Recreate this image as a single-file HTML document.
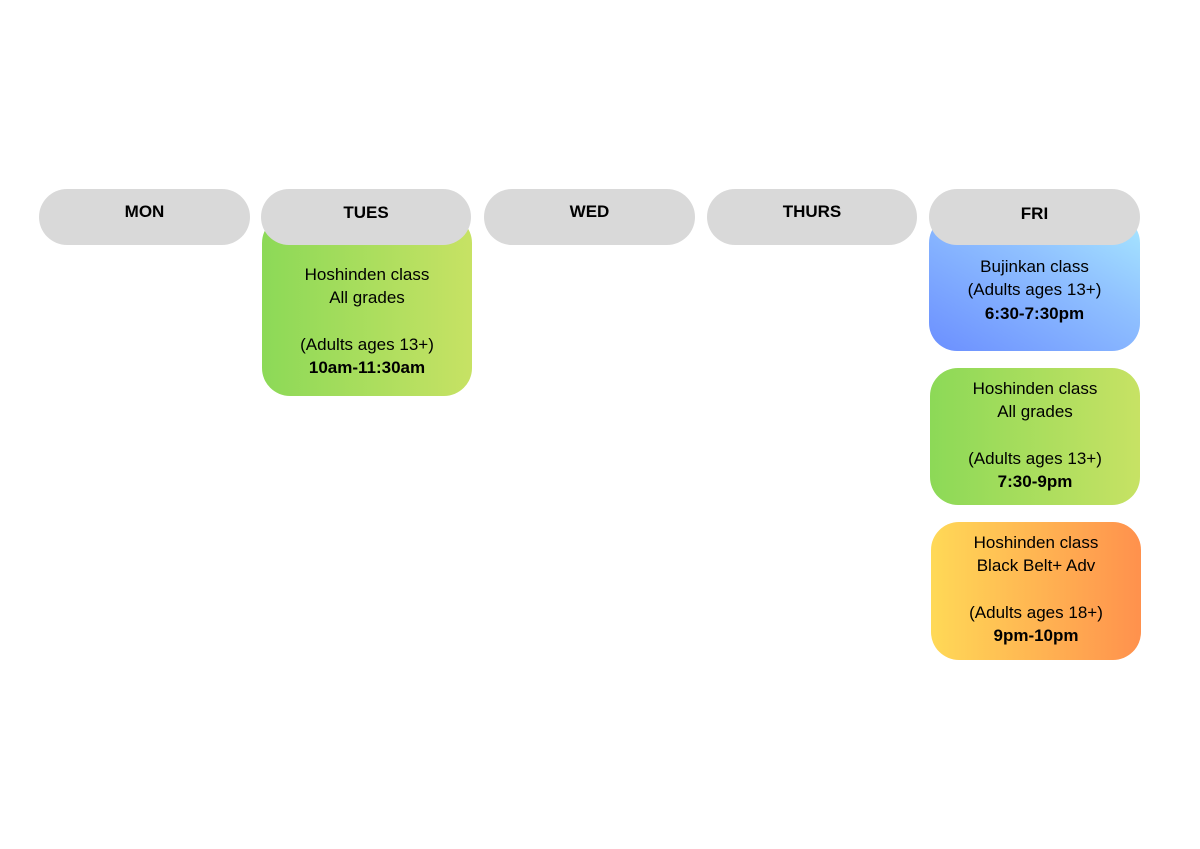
<!DOCTYPE html>
<html><head><style>
body{margin:0;width:1200px;height:849px;background:#fff;position:relative;font-family:"Liberation Sans",sans-serif;color:#000;overflow:hidden}
.b{position:absolute;border-radius:28px;text-align:center;font-size:17px;line-height:23.3px;box-sizing:border-box}
.h{background:#d9d9d9;height:56px;top:189px;font-weight:bold;font-size:17px;line-height:20px;padding-top:13px}
.g{background:linear-gradient(90deg,#8cd957,#c7e264)}
b{font-weight:bold}
</style></head><body>
<div class="b g" style="left:262px;top:215px;width:210px;height:181px;padding-top:48px">Hoshinden class<br>All grades<br><br>(Adults ages 13+)<br><b>10am-11:30am</b></div>
<div class="b" style="left:929px;top:215px;width:211px;height:136px;padding-top:40px;background:linear-gradient(30deg,#6b8fff,#8fc0ff 60%,#a8e8ff)">Bujinkan class<br>(Adults ages 13+)<br><b>6:30-7:30pm</b></div>
<div class="b g" style="left:930px;top:368px;width:210px;height:137px;padding-top:9px">Hoshinden class<br>All grades<br><br>(Adults ages 13+)<br><b>7:30-9pm</b></div>
<div class="b" style="left:931px;top:522px;width:210px;height:138px;padding-top:9px;background:linear-gradient(90deg,#ffd957,#ff914d)">Hoshinden class<br>Black Belt+ Adv<br><br>(Adults ages 18+)<br><b>9pm-10pm</b></div>
<div class="b h" style="left:39px;width:211px;padding-top:13px">MON</div>
<div class="b h" style="left:261px;width:210px;padding-top:14px">TUES</div>
<div class="b h" style="left:484px;width:211px;padding-top:13px">WED</div>
<div class="b h" style="left:707px;width:210px;padding-top:13px">THURS</div>
<div class="b h" style="left:929px;width:211px;padding-top:15px">FRI</div>
</body></html>
